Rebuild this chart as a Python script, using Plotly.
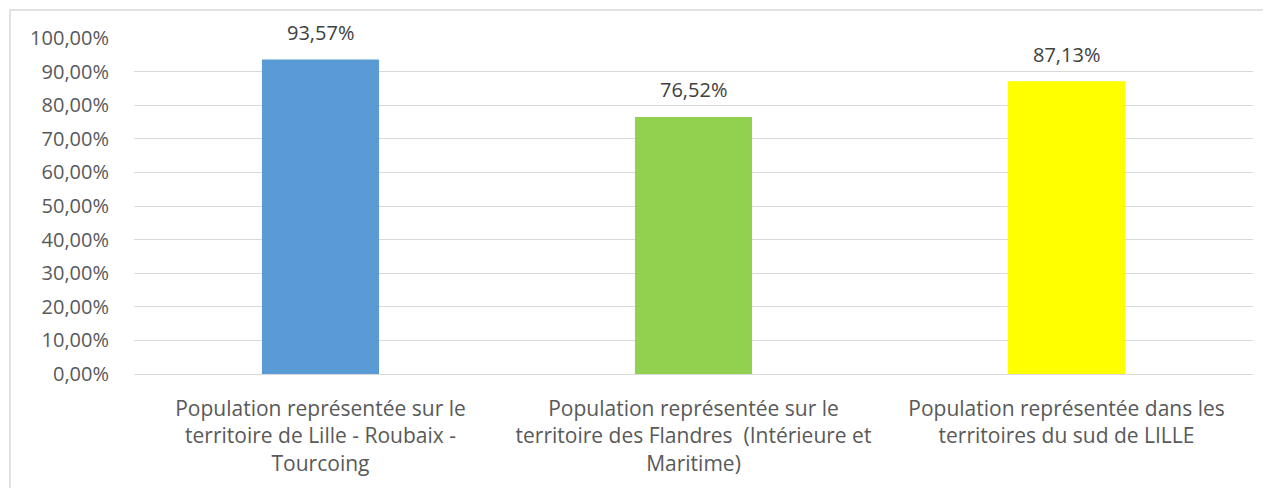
import plotly.graph_objects as go

categories = [
    "Population représentée sur le<br>territoire de Lille - Roubaix -<br>Tourcoing",
    "Population représentée sur le<br>territoire des Flandres  (Intérieure et<br>Maritime)",
    "Population représentée dans les<br>territoires du sud de LILLE",
]
values = [0.9357, 0.7652, 0.8713]
colors = ["#5B9BD5", "#92D050", "#FFFF00"]
tick_vals = [i / 10 for i in range(11)]

# page body has an 8px margin
W, H = 1263, 480
ml, mr, mt, mb = 126, 18, 30, 114
pw, ph = W - ml - mr, H - mt - mb

font_family = "Open Sans, Liberation Sans, sans-serif"
gray = "#595959"
fs = 20

fig = go.Figure()
fig.add_trace(go.Bar(
    x=categories, y=values, marker_color=colors, marker_line_width=0,
    hoverinfo="skip",
))

for c, v in zip(categories, values):
    fig.add_annotation(
        x=c, y=v, text=f"{v*100:.2f}%".replace(".", ","),
        showarrow=False, yanchor="middle", yshift=27,
        font=dict(family=font_family, size=fs, color="#404040"),
    )

# chart border (left/top visible)
fig.add_shape(
    type="rect", xref="paper", yref="paper",
    x0=(2 - ml) / pw, x1=(W + 20 - ml) / pw,
    y0=-(mb + 20) / ph, y1=(ph + mt - 2) / ph,
    line=dict(color="#D9D9D9", width=1.5), layer="below",
)

fig.update_layout(
    width=W, height=H,
    margin=dict(l=ml, r=mr, t=mt, b=mb, autoexpand=False),
    paper_bgcolor="white", plot_bgcolor="white",
    bargap=0.686, showlegend=False,
    separators=", ",
    font=dict(family=font_family, size=fs, color=gray),
)
fig.update_xaxes(
    showgrid=False, showline=False, zeroline=False,
    tickfont=dict(size=21, color=gray), ticks="", ticklabelstandoff=20,
)
fig.update_yaxes(
    range=[0, 1], tickvals=tick_vals, tickformat=".2%",
    showgrid=True, gridcolor="#D9D9D9", gridwidth=1.3,
    zeroline=True, zerolinecolor="#D9D9D9", zerolinewidth=1.3,
    showline=False, ticks="", ticklabelstandoff=24,
    tickfont=dict(size=fs, color=gray),
)

fig.write_html("out.html")
